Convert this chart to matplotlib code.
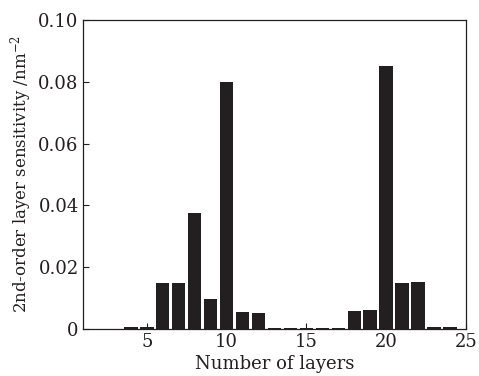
import matplotlib
matplotlib.use("Agg")
import matplotlib.pyplot as plt

layers = list(range(1, 25))
sensitivity = [0.0, 0.0, 0.0, 0.0006, 0.0008, 0.0150, 0.0150, 0.0374, 0.0096, 0.0800,
               0.0056, 0.0053, 0.0002, 0.0002, 0.0002, 0.0003, 0.0003, 0.0059, 0.0061, 0.0852,
               0.0150, 0.0153, 0.0008, 0.0008]
xticks = [5, 10, 15, 20, 25]
yticks = [0, 0.02, 0.04, 0.06, 0.08, 0.10]
yticklabels = ["0", "0.02", "0.04", "0.06", "0.08", "0.10"]

plt.rcParams['font.family'] = ['DejaVu Serif']
plt.rcParams['mathtext.fontset'] = 'dejavuserif'

fig = plt.figure(figsize=(4.79, 3.76), dpi=100)
ax = fig.add_axes([0.173, 0.125, 0.800, 0.822])
ax.bar(layers, sensitivity, width=0.85, color='#231f20', edgecolor='none', zorder=2)
ax.set_xlim(1, 25)
ax.set_ylim(0, 0.10)
ax.set_xticks(xticks)
ax.set_yticks(yticks)
ax.set_yticklabels(yticklabels)
ax.tick_params(direction='in', length=4, width=0.8, labelsize=13, colors='#231f20', pad=3)
for s in ax.spines.values():
    s.set_linewidth(0.9)
    s.set_color('#231f20')
ax.set_xlabel("Number of layers", fontsize=13, labelpad=3, color='#231f20')
ax.set_ylabel("2nd-order layer sensitivity /nm$^{-2}$", fontsize=12, labelpad=3, color='#231f20')
fig.savefig("out.png", dpi=100)
